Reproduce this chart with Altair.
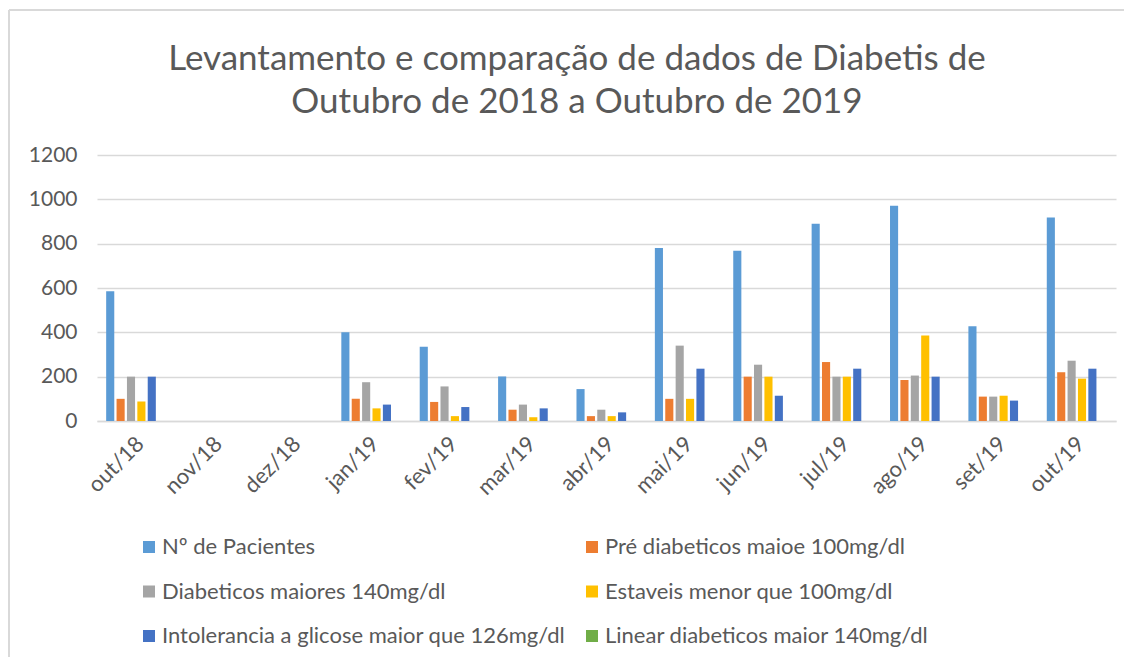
import altair as alt
import pandas as pd

months = ["out/18", "nov/18", "dez/18", "jan/19", "fev/19", "mar/19", "abr/19",
          "mai/19", "jun/19", "jul/19", "ago/19", "set/19", "out/19"]
series = ["Nº de Pacientes", "Pré diabeticos maioe 100mg/dl",
          "Diabeticos maiores 140mg/dl", "Estaveis menor que 100mg/dl",
          "Intolerancia a glicose maior que 126mg/dl",
          "Linear diabeticos maior 140mg/dl"]
colors = ["#5B9BD5", "#ED7D31", "#A5A5A5", "#FFC000", "#4472C4", "#70AD47"]

pacientes = [585, None, None, 400, 335, 201, 144, 780, 768, 890, 971, 427, 918]
pre_diab = [100, None, None, 100, 86, 51, 22, 100, 200, 266, 185, 110, 220]
diabeticos = [200, None, None, 175, 156, 74, 51, 340, 254, 200, 205, 110, 272]
estaveis = [88, None, None, 57, 22, 17, 22, 100, 200, 200, 386, 114, 191]
intolerancia = [200, None, None, 74, 63, 57, 39, 236, 114, 236, 200, 92, 236]
y_ticks = [0, 200, 400, 600, 800, 1000, 1200]
title_lines = ["Levantamento e comparação de dados de Diabetis de",
               "Outubro de 2018 a Outubro de 2019"]

rows = []
for s, vals in zip(series, [pacientes, pre_diab, diabeticos, estaveis, intolerancia]):
    for m, v in zip(months, vals):
        if v is not None:
            rows.append({"mes": m, "serie": s, "valor": v})
df = pd.DataFrame(rows)

FONT = "Lato"
GRAY = "#595959"
LIGHT = "#D9D9D9"

bars = alt.Chart(df).mark_bar().encode(
    x=alt.X("mes:N", sort=months,
            scale=alt.Scale(domain=months, paddingInner=0.234, paddingOuter=0.117),
            axis=alt.Axis(title=None, labelAngle=-45, labelFont=FONT, labelFontSize=22,
                          labelColor=GRAY, ticks=False, labelPadding=12, labelOffset=-3,
                          domainColor=LIGHT, domainWidth=1.5, grid=False)),
    xOffset=alt.XOffset("serie:N",
                        scale=alt.Scale(domain=series, paddingInner=0.22, paddingOuter=0)),
    y=alt.Y("valor:Q", scale=alt.Scale(domain=[0, 1200], nice=False),
            axis=alt.Axis(title=None, values=y_ticks, format="d", labelFont=FONT,
                          labelFontSize=21, labelColor=GRAY, ticks=False, domain=False,
                          labelPadding=20, grid=True, gridColor=LIGHT, gridWidth=1.5)),
    color=alt.Color("serie:N", scale=alt.Scale(domain=series, range=colors),
                    legend=alt.Legend(title=None, orient="none", legendX=41, legendY=381,
                                      direction="horizontal", columns=2,
                                      columnPadding=15, rowPadding=22.5,
                                      symbolType="square", symbolSize=144,
                                      symbolStrokeWidth=0, labelFont=FONT,
                                      labelFontSize=22, labelColor=GRAY, labelOffset=2,
                                      labelLimit=800)),
)

one = pd.DataFrame({"a": [0]})
top_border = alt.Chart(one).mark_rule(color=LIGHT, strokeWidth=2).encode(
    x=alt.value(-88), x2=alt.value(1030), y=alt.value(-145))
left_border = alt.Chart(one).mark_rule(color=LIGHT, strokeWidth=2).encode(
    x=alt.value(-88), y=alt.value(-145), y2=alt.value(510))

title1 = alt.Chart(one).mark_text(text=title_lines[0], font=FONT, fontSize=35,
                                   color=GRAY, align="center", baseline="alphabetic").encode(
    x=alt.value(480), y=alt.value(-85))
title2 = alt.Chart(one).mark_text(text=title_lines[1], font=FONT, fontSize=35,
                                   color=GRAY, align="center", baseline="alphabetic").encode(
    x=alt.value(480), y=alt.value(-42))

chart = alt.layer(top_border, left_border, title1, title2, bars).properties(
    width=1019, height=266,
    autosize=alt.AutoSizeParams(type="none"),
    padding={"left": 89, "top": 147, "right": 8, "bottom": 236},
).configure_view(stroke=None)

chart.save("out.html", embed_options={"renderer": "svg", "actions": False})
